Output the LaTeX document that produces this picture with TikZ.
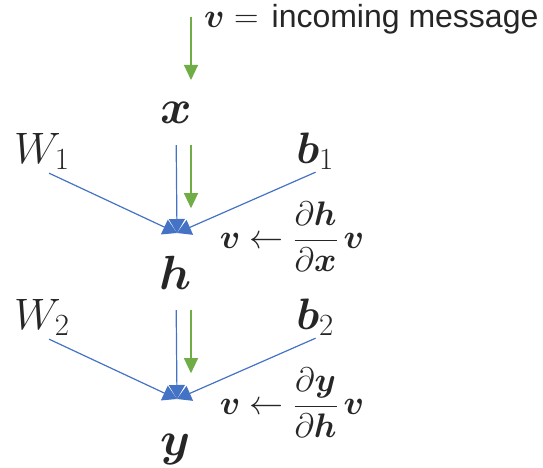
\RequirePackage{fix-cm}
\documentclass[tikz,border=0pt]{standalone}
\usepackage{amsmath,bm}
\usepackage{fontspec}
\newfontfamily\msgfont{Liberation Sans}
\usetikzlibrary{arrows.meta,calc}
\definecolor{fwdblue}{HTML}{4472C4}
\definecolor{bwdgreen}{HTML}{70AD47}
\definecolor{ink}{HTML}{262626}
\begin{document}
\begin{tikzpicture}[x=1pt,y=-1pt,
  var/.style={inner sep=0pt,text=ink,anchor=base,font=\fontsize{48}{52}\selectfont},
  param/.style={inner sep=0pt,text=ink,font=\fontsize{44}{48}\selectfont},
  rulelabel/.style={inner sep=0pt,text=ink,font=\fontsize{34}{38}\selectfont},
  fwd/.style={draw=fwdblue,line width=1.2pt,-{Triangle[length=14pt,width=16pt]}},
  bwd/.style={draw=bwdgreen,line width=1.2pt,-{Triangle[length=15pt,width=14pt]}}]
\useasboundingbox (0,0) rectangle (543,468);
% variables
\node[var] (x) at (176,124) {$\bm{x}$};
\node[var] (h) at (176,289) {$\bm{h}$};
\node[var] (y) at (176,455) {$\bm{y}$};
% parameters
\node[param,anchor=base west] (W1) at (14,163) {$W_1$};
\node[param,anchor=base east] (b1) at (334,163) {$\bm{b}_1$};
\node[param,anchor=base west] (W2) at (14,329) {$W_2$};
\node[param,anchor=base east] (b2) at (334,329) {$\bm{b}_2$};
% incoming message
\node[rulelabel,anchor=base west] (msg) at (204,28) {$\bm{v} =$\hspace{13pt}{\msgfont\fontsize{32}{36}\selectfont incoming message}};
\coordinate (g0) at (191,17);
\draw[bwd] (g0) -- (g0 |- 0,80);
% backprop rules
\node[rulelabel] (r1) at (292,237) {$\bm{v}\leftarrow\dfrac{\partial\bm{h}}{\partial\bm{x}}\,\bm{v}$};
\node[rulelabel] (r2) at (292,403) {$\bm{v}\leftarrow\dfrac{\partial\bm{y}}{\partial\bm{h}}\,\bm{v}$};
% forward and backward edges
\foreach \up/\dn/\W/\b/\dy [count=\i] in {x/h/W1/b1/0, h/y/W2/b2/166}{
  \coordinate (j\i) at (177,233+\dy);
  \draw[fwd,shorten <=8pt] (\W.south) -- (j\i);
  \draw[fwd,shorten <=6pt] ([xshift=6pt]\b.south) -- (j\i);
  \draw[fwd,shorten <=21pt] (\up.south) -- (j\i);
  \draw[bwd] ($(\up.south)+(15,21)$) -- ++(0,63);
}
\end{tikzpicture}
\end{document}
